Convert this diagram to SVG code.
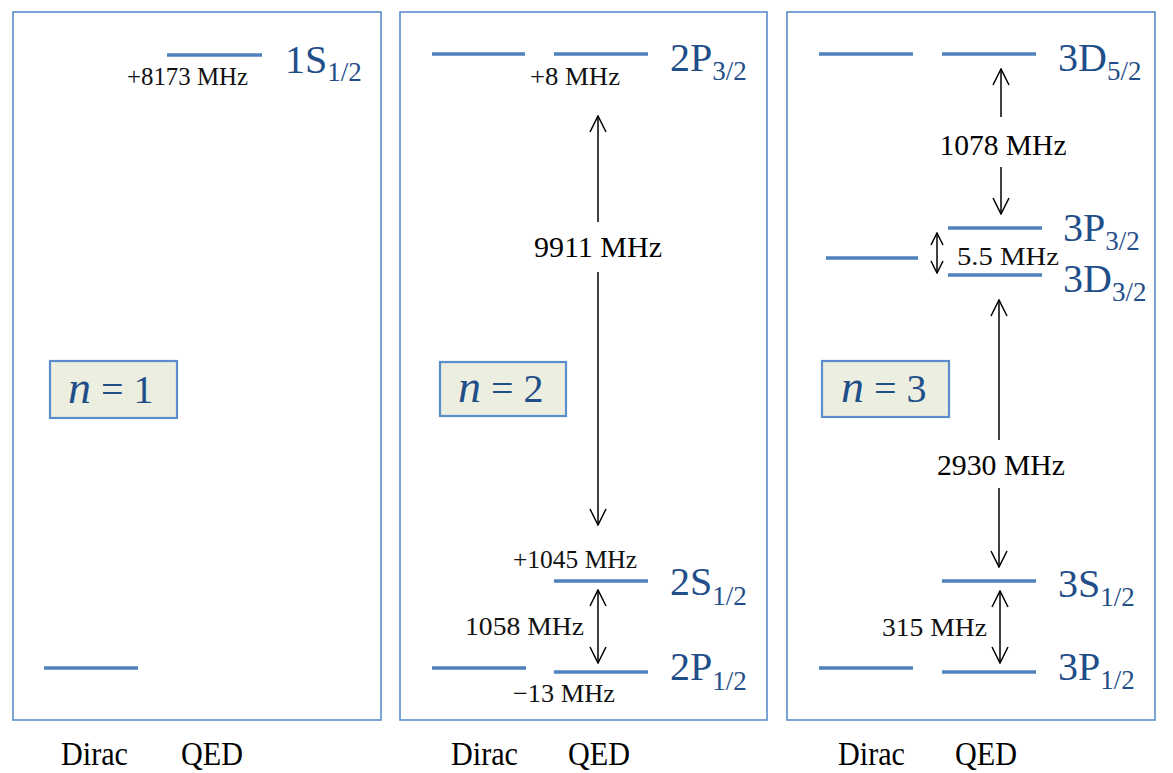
<svg xmlns="http://www.w3.org/2000/svg" width="1173" height="773" viewBox="0 0 1173 773">
<style>
.panel{fill:none;stroke:#5b8ccc;stroke-width:1.6}
.lvl{stroke:#4f81bd;stroke-width:3.5;fill:none}
.nbox{fill:#eceee0;stroke:#5b8ccc;stroke-width:2.2}
.ntxt{font-family:"Liberation Serif","Times New Roman",serif;font-size:40px;fill:#1f4e89}
.state{font-family:"Liberation Serif","Times New Roman",serif;font-size:40px;fill:#1f4e89}
.sub{font-size:27px}
.shift{font-family:"Liberation Serif","Times New Roman",serif;font-size:26px;fill:#111}
.gap{font-family:"Liberation Serif","Times New Roman",serif;font-size:30px;fill:#000}
.axis{font-family:"Liberation Serif","Times New Roman",serif;font-size:33px;fill:#000}
.arr{stroke:#000;stroke-width:1.5;fill:none}
</style>
<defs>
<marker id="ah" viewBox="0 0 18 18" refX="17" refY="9" markerWidth="18" markerHeight="18" markerUnits="userSpaceOnUse" orient="auto-start-reverse">
<path d="M1,1 L17,9 L1,17" fill="none" stroke="#000" stroke-width="1.5"/>
</marker>
<marker id="ahs" viewBox="0 0 14 14" refX="13" refY="7" markerWidth="14" markerHeight="14" markerUnits="userSpaceOnUse" orient="auto-start-reverse">
<path d="M1,1 L13,7 L1,13" fill="none" stroke="#000" stroke-width="1.5"/>
</marker>
</defs>

<g id="panel-n1">
<rect class="panel" x="13" y="12" width="368" height="708"/>
<line class="lvl" x1="167" y1="55" x2="262" y2="55"/>
<line class="lvl" x1="44" y1="668" x2="138" y2="668"/>
<text class="shift" x="127" y="85" textLength="121" lengthAdjust="spacingAndGlyphs">+8173 MHz</text>
<text class="state" x="285" y="73">1S<tspan class="sub" y="81">1/2</tspan></text>
<rect class="nbox" x="50" y="361" width="127" height="57"/>
<text class="ntxt" x="68" y="403"><tspan font-style="italic" font-size="46">n</tspan> = 1</text>
<text class="axis" x="61" y="765" textLength="67" lengthAdjust="spacingAndGlyphs">Dirac</text>
<text class="axis" x="181" y="765" textLength="62" lengthAdjust="spacingAndGlyphs">QED</text>
</g>

<g id="panel-n2">
<rect class="panel" x="400" y="12" width="367" height="708"/>
<line class="lvl" x1="432" y1="54" x2="525" y2="54"/>
<line class="lvl" x1="554" y1="54" x2="648" y2="54"/>
<text class="shift" x="530" y="85" textLength="90" lengthAdjust="spacingAndGlyphs">+8 MHz</text>
<text class="state" x="670" y="71">2P<tspan class="sub" y="80">3/2</tspan></text>
<line class="lvl" x1="554" y1="581" x2="648" y2="581"/>
<text class="shift" x="513" y="568" textLength="124" lengthAdjust="spacingAndGlyphs">+1045 MHz</text>
<text class="state" x="670" y="595">2S<tspan class="sub" y="605">1/2</tspan></text>
<line class="lvl" x1="432" y1="668" x2="526" y2="668"/>
<line class="lvl" x1="554" y1="672" x2="648" y2="672"/>
<text class="shift" x="513" y="702" textLength="102" lengthAdjust="spacingAndGlyphs">−13 MHz</text>
<text class="state" x="670" y="680">2P<tspan class="sub" y="690">1/2</tspan></text>
<text class="shift" x="465" y="635" textLength="119" lengthAdjust="spacingAndGlyphs">1058 MHz</text>
<rect class="nbox" x="440" y="362" width="126" height="54"/>
<text class="ntxt" x="458" y="402"><tspan font-style="italic" font-size="46">n</tspan> = 2</text>
<text class="gap" x="598" y="257" text-anchor="middle" textLength="128" lengthAdjust="spacingAndGlyphs">9911 MHz</text>
<text class="axis" x="451" y="765" textLength="67" lengthAdjust="spacingAndGlyphs">Dirac</text>
<text class="axis" x="568" y="765" textLength="62" lengthAdjust="spacingAndGlyphs">QED</text>
</g>

<g id="panel-n3">
<rect class="panel" x="787" y="12" width="368" height="708"/>
<line class="lvl" x1="819" y1="54" x2="913" y2="54"/>
<line class="lvl" x1="942" y1="54" x2="1036" y2="54"/>
<text class="state" x="1058" y="71">3D<tspan class="sub" y="80">5/2</tspan></text>
<text class="gap" x="1003" y="155" text-anchor="middle" textLength="127" lengthAdjust="spacingAndGlyphs">1078 MHz</text>
<line class="lvl" x1="948" y1="228" x2="1042" y2="228"/>
<line class="lvl" x1="948" y1="275" x2="1042" y2="275"/>
<line class="lvl" x1="826" y1="258" x2="918" y2="258"/>
<text class="shift" x="957" y="265" textLength="102" lengthAdjust="spacingAndGlyphs">5.5 MHz</text>
<text class="state" x="1063" y="241">3P<tspan class="sub" y="250">3/2</tspan></text>
<text class="state" x="1063" y="292">3D<tspan class="sub" y="301">3/2</tspan></text>
<rect class="nbox" x="822" y="361" width="127" height="56"/>
<text class="ntxt" x="841" y="402"><tspan font-style="italic" font-size="46">n</tspan> = 3</text>
<text class="gap" x="1001" y="475" text-anchor="middle" textLength="128" lengthAdjust="spacingAndGlyphs">2930 MHz</text>
<line class="lvl" x1="942" y1="581" x2="1036" y2="581"/>
<text class="state" x="1058" y="597">3S<tspan class="sub" y="606">1/2</tspan></text>
<line class="lvl" x1="819" y1="668" x2="913" y2="668"/>
<line class="lvl" x1="942" y1="672" x2="1036" y2="672"/>
<text class="state" x="1058" y="680">3P<tspan class="sub" y="689">1/2</tspan></text>
<text class="shift" x="882" y="636" textLength="105" lengthAdjust="spacingAndGlyphs">315 MHz</text>
<text class="axis" x="838" y="765" textLength="67" lengthAdjust="spacingAndGlyphs">Dirac</text>
<text class="axis" x="955" y="765" textLength="62" lengthAdjust="spacingAndGlyphs">QED</text>
</g>

<g id="connectors">
<line class="arr" x1="598" y1="222" x2="598" y2="116" marker-end="url(#ah)"/>
<line class="arr" x1="598" y1="272" x2="598" y2="525" marker-end="url(#ah)"/>
<line class="arr" x1="598" y1="590" x2="598" y2="663" marker-start="url(#ah)" marker-end="url(#ah)"/>
<line class="arr" x1="1001" y1="117" x2="1001" y2="69" marker-end="url(#ah)"/>
<line class="arr" x1="1001" y1="167" x2="1001" y2="214" marker-end="url(#ah)"/>
<line class="arr" x1="937" y1="233" x2="937" y2="273" marker-start="url(#ahs)" marker-end="url(#ahs)"/>
<line class="arr" x1="999" y1="440" x2="999" y2="300" marker-end="url(#ah)"/>
<line class="arr" x1="999" y1="488" x2="999" y2="567" marker-end="url(#ah)"/>
<line class="arr" x1="1000" y1="591" x2="1000" y2="663" marker-start="url(#ah)" marker-end="url(#ah)"/>
</g>
</svg>
